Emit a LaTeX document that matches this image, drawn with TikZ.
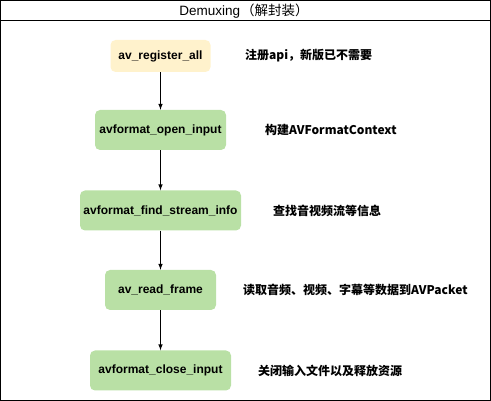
\documentclass[tikz,border=0pt]{standalone}
\usepackage{fontspec}
\setmainfont{Liberation Sans}
\newfontfamily\cjk{Noto Sans CJK SC}
\usepackage{xcolor}
\usetikzlibrary{arrows}
\definecolor{callyellow}{HTML}{FFF2CC}
\definecolor{callgreen}{HTML}{B9E0A5}
\tikzset{>=latex}
\tikzset{
	call/.style={fill=callgreen, rounded corners=5pt, inner sep=0pt,
		font=\bfseries\fontsize{12}{14}\selectfont, minimum height=40pt},
	note/.style={anchor=west, inner sep=0pt, font=\cjk\bfseries\fontsize{12}{14}\selectfont},
}

\begin{document}
\begin{tikzpicture}[x=1pt,y=-1pt]
	% Frame and title
	\useasboundingbox (0,0) rectangle (491,401);
	\draw[line width=1pt] (0.5,0.5) rectangle (490.5,400.5);
	\draw[line width=1pt] (0.5,20.5) -- (490.5,20.5);
	\node[font=\fontsize{13.5}{15}\selectfont] (title) at (244,11) {Demuxing\hspace{1pt}{\cjk（解封装）}};

	% Defining the calls
	\node[call, fill=callyellow, minimum width=100pt, minimum height=32pt] (reg) at (160.5,56) {av\_register\_all}; %register
	\node[call, minimum width=131pt] (open) at (160.5,130) {avformat\_open\_input}; %open
	\node[call, minimum width=161pt] (find) at (160.5,210.5) {avformat\_find\_stream\_info}; %find
	\node[call, minimum width=111pt] (read) at (160.5,290) {av\_read\_frame}; %read
	\node[call, minimum width=141pt] (close) at (160.5,370.5) {avformat\_close\_input}; %close

	% Notes beside the calls
	\node[note] (nreg) at (245,56) {注册api，新版已不需要};
	\node[note] (nopen) at (265,130) {构建AVFormatContext};
	\node[note] (nfind) at (273,210.5) {查找音视频流等信息};
	\node[note] (nread) at (243,290) {读取音频、视频、字幕等数据到AVPacket};
	\node[note] (nclose) at (258,370.5) {关闭输入文件以及释放资源};

	% Drawing everything
	\draw[->, line width=1pt] (reg) -- (open);
	\draw[->, line width=1pt] (open) -- (find);
	\draw[->, line width=1pt] (find) -- (read);
	\draw[->, line width=1pt] (read) -- (close);
\end{tikzpicture}
\end{document}
